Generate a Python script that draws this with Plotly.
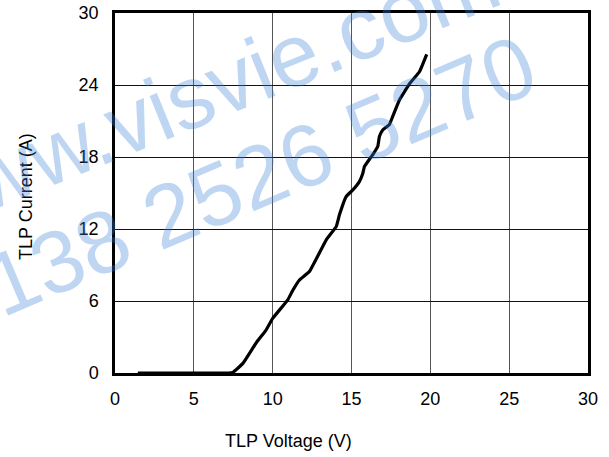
import plotly.graph_objects as go

voltage = [1.45, 4.5, 7.2, 7.47, 8.11, 8.95, 9.59, 10.0, 10.96, 11.28, 11.7, 12.33, 13.4, 14.03, 14.24,
           14.66, 15.08, 15.5, 15.71, 15.82, 16.35, 16.67, 16.77, 16.98, 17.4, 17.62, 18.04,
           18.68, 19.31, 19.77]
current = [0, 0, 0, 0.05, 0.8, 2.5, 3.6, 4.55, 6.1, 6.9, 7.75, 8.45, 11.1, 12.2, 13.2,
           14.7, 15.25, 15.95, 16.6, 17.2, 18.2, 18.9, 19.7, 20.25, 20.7, 21.4, 22.75,
           24.1, 25.1, 26.55]

x_ticks = [0, 5, 10, 15, 20, 25, 30]
y_ticks = [0, 6, 12, 18, 24, 30]
x_title = "TLP Voltage (V)"
y_title = "TLP Current (A)"
watermark = ["www.visvie.com", "138 2526 5270"]

FONT = "Liberation Sans, Arial, sans-serif"

fig = go.Figure()
fig.add_trace(go.Scatter(x=voltage, y=current, mode="lines",
                         line=dict(color="black", width=3.2, shape="spline", smoothing=0.3),
                         showlegend=False, cliponaxis=False, hoverinfo="skip"))

axis_common = dict(showline=True, linecolor="black", linewidth=2.5, mirror=True,
                   showgrid=True, gridwidth=1, zeroline=False,
                   ticks="", automargin=False,
                   tickfont=dict(family=FONT, size=18, color="black"))

fig.update_xaxes(range=[0, 30], tickvals=x_ticks, ticklabelstandoff=8, gridcolor="#555", **axis_common)
fig.update_yaxes(range=[0, 30], tickvals=y_ticks, ticklabelstandoff=10, gridcolor="#111", **axis_common)

fig.update_layout(
    width=609, height=457,
    margin=dict(l=115, r=21, t=13, b=84, autoexpand=False),
    plot_bgcolor="white", paper_bgcolor="white",
    font=dict(family=FONT, size=18, color="black"),
)

W, H, L, T = 473, 360, 115, 13
def px(x):
    return (x - L) / W
def py(y):
    return (T + H - y) / H

fig.add_annotation(text=x_title, xref="paper", yref="paper", x=px(288), y=py(441),
                   showarrow=False, font=dict(family=FONT, size=18, color="black"),
                   xanchor="center", yanchor="middle")
fig.add_annotation(text=y_title, xref="paper", yref="paper", x=px(26), y=py(197),
                   showarrow=False, textangle=-90, font=dict(family=FONT, size=18, color="black"),
                   xanchor="center", yanchor="middle")

wm_color = "rgba(60,130,215,0.33)"
fig.add_annotation(text=watermark[0], xref="paper", yref="paper", x=px(202), y=py(92),
                   showarrow=False, textangle=-22, font=dict(family=FONT, size=89, color=wm_color),
                   xanchor="center", yanchor="middle")
fig.add_annotation(text=watermark[1], xref="paper", yref="paper", x=px(260), y=py(176),
                   showarrow=False, textangle=-23, font=dict(family=FONT, size=88, color=wm_color),
                   xanchor="center", yanchor="middle")

fig.write_html("out.html", config={"displayModeBar": False},
               post_script="document.body.style.margin='0';document.body.style.overflow='hidden';")
